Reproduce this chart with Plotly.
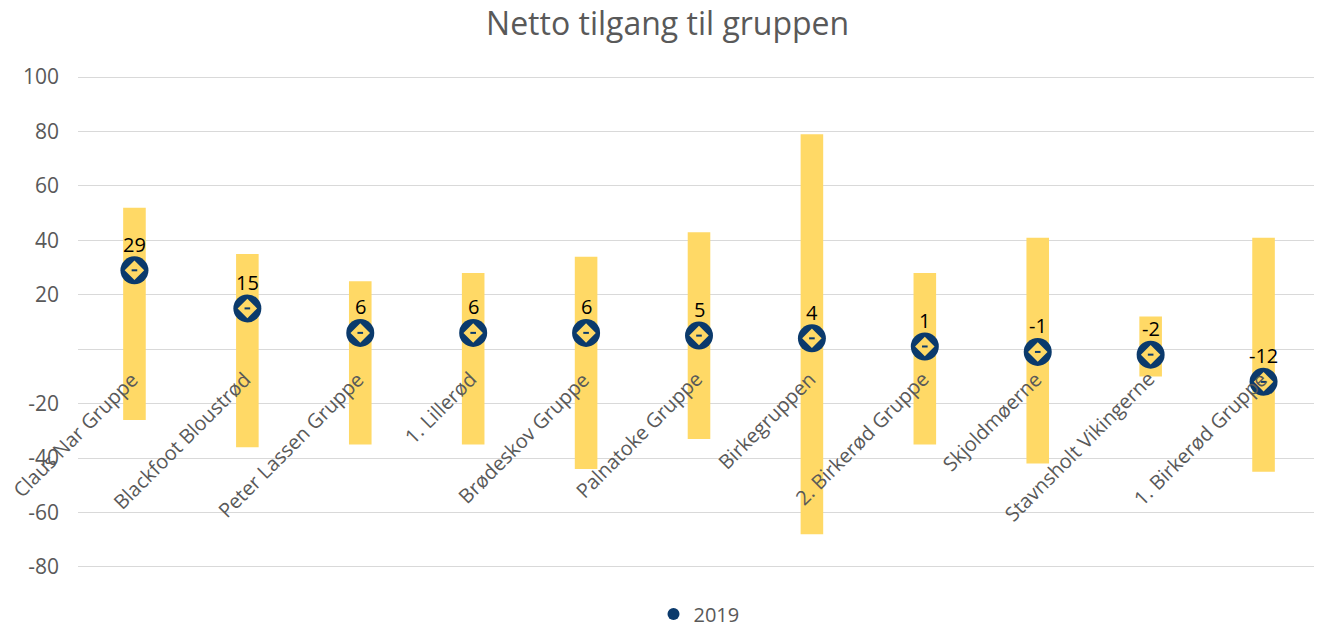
import plotly.graph_objects as go

categories = ["Claus Nar Gruppe", "Blackfoot Bloustrød", "Peter Lassen Gruppe", "1. Lillerød",
              "Brødeskov Gruppe", "Palnatoke Gruppe", "Birkegruppen", "2. Birkerød Gruppe",
              "Skjoldmøerne", "Stavnsholt Vikingerne", "1. Birkerød Gruppe"]
values_2019 = [29, 15, 6, 6, 6, 5, 4, 1, -1, -2, -12]
range_high = [52, 35, 25, 28, 34, 43, 79, 28, 41, 12, 41]
range_low = [-26, -36, -35, -35, -44, -33, -68, -35, -42, -10, -45]
y_ticks = [-80, -60, -40, -20, 0, 20, 40, 60, 80, 100]
y_ticktext = ["-80", "-60", "-40", "-20", "", "20", "40", "60", "80", "100"]

NAVY = "#0b3a6c"
GOLD = "#ffd966"
GRAY = "#595959"
FONT = "Open Sans"

fig = go.Figure()

fig.add_trace(go.Bar(
    x=categories,
    y=[h - l for h, l in zip(range_high, range_low)],
    base=range_low,
    width=0.2,
    marker=dict(color=GOLD, line=dict(width=0)),
    showlegend=False,
    hoverinfo="skip",
))

fig.add_trace(go.Scatter(
    x=categories, y=values_2019, mode="markers",
    name="2019",
    marker=dict(symbol="circle", size=28, color=NAVY, line=dict(width=0)),
    showlegend=False,
))
fig.add_trace(go.Scatter(
    x=categories, y=values_2019, mode="markers",
    marker=dict(symbol="diamond", size=15, color=GOLD, line=dict(width=0)),
    showlegend=False, hoverinfo="skip",
))
fig.add_trace(go.Scatter(
    x=categories, y=values_2019, mode="markers",
    marker=dict(symbol="line-ew", size=4, color=NAVY, line=dict(width=2, color=NAVY)),
    showlegend=False, hoverinfo="skip",
))
# legend-only entry
fig.add_trace(go.Scatter(
    x=[None], y=[None], mode="markers", name="2019",
    marker=dict(symbol="circle", size=12, color=NAVY, line=dict(width=0)),
    showlegend=True,
))

for c, v in zip(categories, values_2019):
    fig.add_annotation(
        x=c, y=v, xref="x", yref="y", text=str(v), showarrow=False,
        xanchor="center", yanchor="middle", yshift=26,
        font=dict(family=FONT, size=20, color="black"),
    )

for c in categories:
    fig.add_annotation(
        x=c, y=0, xref="x", yref="y", text=c, showarrow=False,
        textangle=-45, xanchor="right", yanchor="top",
        xshift=12, yshift=-14,
        font=dict(family=FONT, size=20, color=GRAY),
    )

fig.update_layout(
    width=1314, height=621,
    paper_bgcolor="white", plot_bgcolor="white",
    margin=dict(l=70, r=2, t=68, b=61),
    title=dict(text="Netto tilgang til gruppen", x=0.502, xanchor="center",
               y=0.974, yanchor="middle",
               font=dict(family=FONT, size=32, color=GRAY)),
    font=dict(family=FONT, color=GRAY),
    legend=dict(orientation="h", x=0.5, xanchor="center", yref="container", y=0.024, yanchor="middle",
                font=dict(family=FONT, size=20, color=GRAY), itemwidth=30),
)
fig.update_xaxes(range=[-0.5, 10.5], showticklabels=False, showgrid=False, zeroline=False, showline=False)
fig.update_yaxes(range=[-80.4, 100.4], tickvals=y_ticks, ticktext=y_ticktext, automargin=False,
                 showgrid=True, gridcolor="#d9d9d9", gridwidth=1.3,
                 zeroline=True, zerolinecolor="#d9d9d9", zerolinewidth=1.3,
                 tickfont=dict(family=FONT, size=21, color=GRAY), ticklen=0, ticks="",
                 ticklabelstandoff=18)

fig.write_html("out.html")
